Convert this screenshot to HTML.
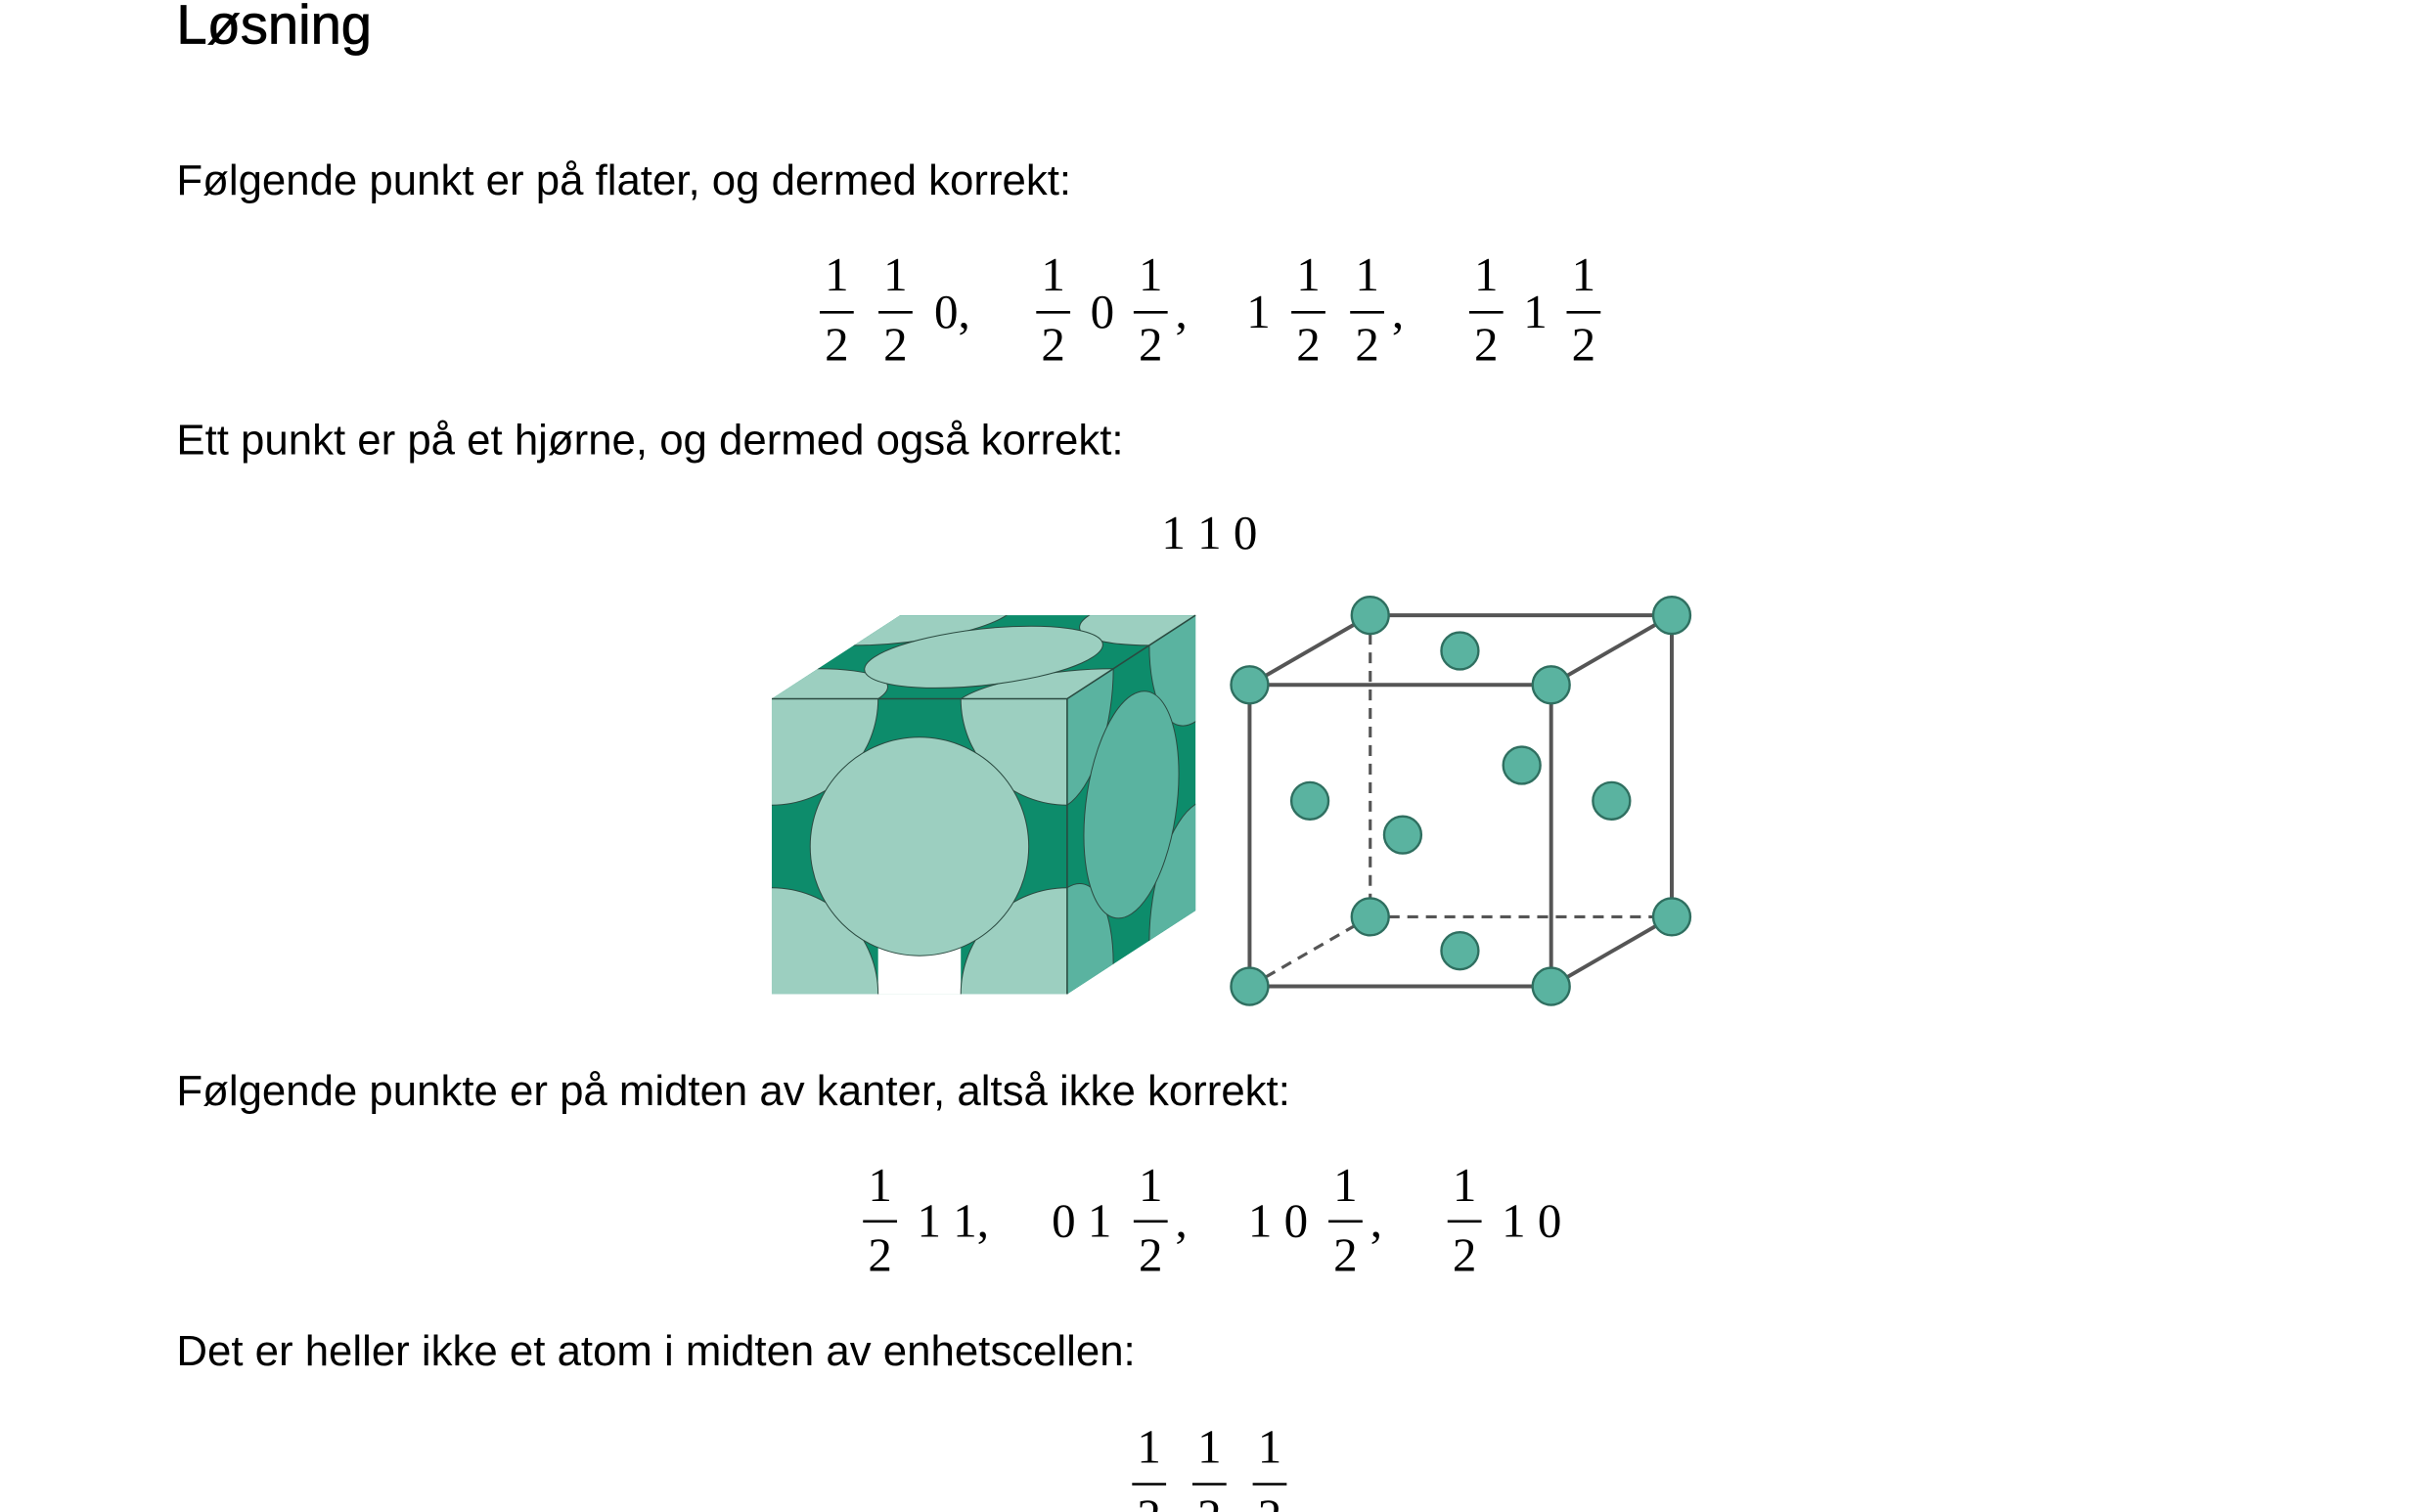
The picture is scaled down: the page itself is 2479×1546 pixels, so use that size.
<!DOCTYPE html>
<html><head><meta charset="utf-8">
<style>
html,body{margin:0;padding:0;background:#fff;width:2479px;height:1546px;overflow:hidden}
svg{display:block}
.s{font-family:"Liberation Sans",sans-serif;font-size:27.7px;fill:#000}
.m{font-family:"Liberation Serif",serif;font-size:31px;fill:#000}
</style></head>
<body>
<svg id="pg" width="2479" height="1546" viewBox="0 0 1568 978" xmlns="http://www.w3.org/2000/svg">
<defs>
<clipPath id="cu" clipPathUnits="userSpaceOnUse"><rect x="0" y="0" width="1" height="1"/></clipPath>
</defs>
<text x="114" y="28" style="font-family:'Liberation Sans',sans-serif;font-size:35.5px;font-weight:500" stroke="#000" stroke-width="0.5">Løsning</text>
<text class="s" x="114" y="126">Følgende punkt er på flater, og dermed korrekt:</text>
<text class="s" x="114" y="294">Ett punkt er på et hjørne, og dermed også korrekt:</text>
<text class="m" x="751" y="355">1 1 0</text>
<text class="s" x="114" y="715">Følgende punkte er på midten av kanter, altså ikke korrekt:</text>
<text class="s" x="114" y="883">Det er heller ikke et atom i midten av enhetscellen:</text>
<g id="math"></g>

<g>
  <polygon points="499,452 582,398 773,398 773,589 690,643 499,643" fill="#0d8c6b"/>
  <g transform="matrix(191,0,83,-54,499,452)" clip-path="url(#cu)">
    <rect x="0" y="0" width="1" height="1" fill="#0d8c6b"/>
    <g fill="#9ccfc0" stroke="#2a4a40">
      <circle cx="0" cy="0" r="0.36" vector-effect="non-scaling-stroke"/>
      <circle cx="1" cy="0" r="0.36" vector-effect="non-scaling-stroke"/>
      <circle cx="0" cy="1" r="0.36" vector-effect="non-scaling-stroke"/>
      <circle cx="1" cy="1" r="0.36" vector-effect="non-scaling-stroke"/>
      <circle cx="0.5" cy="0.5" r="0.37" vector-effect="non-scaling-stroke"/>
    </g>
  </g>
  <g transform="matrix(83,-54,0,-191,690,643)" clip-path="url(#cu)">
    <rect x="0" y="0" width="1" height="1" fill="#0d8c6b"/>
    <g fill="#5ab3a0" stroke="#2a4a40">
      <circle cx="0" cy="0" r="0.36" vector-effect="non-scaling-stroke"/>
      <circle cx="1" cy="0" r="0.36" vector-effect="non-scaling-stroke"/>
      <circle cx="0" cy="1" r="0.36" vector-effect="non-scaling-stroke"/>
      <circle cx="1" cy="1" r="0.36" vector-effect="non-scaling-stroke"/>
      <circle cx="0.5" cy="0.5" r="0.37" vector-effect="non-scaling-stroke"/>
    </g>
  </g>
  <g transform="matrix(191,0,0,-191,499,643)" clip-path="url(#cu)">
    <rect x="0" y="0" width="1" height="1" fill="#0d8c6b"/>
    <rect x="0.36" y="0" width="0.28" height="0.2" fill="#fff"/>
    <g fill="#9ccfc0" stroke="#2a4a40">
      <circle cx="0" cy="0" r="0.36" vector-effect="non-scaling-stroke"/>
      <circle cx="1" cy="0" r="0.36" vector-effect="non-scaling-stroke"/>
      <circle cx="0" cy="1" r="0.36" vector-effect="non-scaling-stroke"/>
      <circle cx="1" cy="1" r="0.36" vector-effect="non-scaling-stroke"/>
      <circle cx="0.5" cy="0.5" r="0.37" vector-effect="non-scaling-stroke"/>
    </g>
  </g>
  <polyline points="499,452 690,452 773,398" fill="none" stroke="#2a4a40" stroke-width="1"/>
  <line x1="690" y1="452" x2="690" y2="643" stroke="#2a4a40" stroke-width="1"/>
</g>

<g stroke="#555" stroke-width="2.5" fill="none">
  <g stroke-dasharray="7,5" stroke-width="2">
    <line x1="886" y1="398" x2="886" y2="593"/>
    <line x1="886" y1="593" x2="1081" y2="593"/>
    <line x1="808" y1="638" x2="886" y2="593"/>
  </g>
  <line x1="886" y1="398" x2="1081" y2="398"/>
  <line x1="1081" y1="398" x2="1081" y2="593"/>
  <line x1="808" y1="443" x2="1003" y2="443"/>
  <line x1="808" y1="443" x2="808" y2="638"/>
  <line x1="1003" y1="443" x2="1003" y2="638"/>
  <line x1="808" y1="638" x2="1003" y2="638"/>
  <line x1="808" y1="443" x2="886" y2="398"/>
  <line x1="1003" y1="443" x2="1081" y2="398"/>
  <line x1="1003" y1="638" x2="1081" y2="593"/>
  <g fill="#5ab3a0" stroke="#2f6f60" stroke-width="1.5">
    <circle cx="886" cy="398" r="12"/><circle cx="1081" cy="398" r="12"/>
    <circle cx="886" cy="593" r="12"/><circle cx="1081" cy="593" r="12"/>
    <circle cx="808" cy="443" r="12"/><circle cx="1003" cy="443" r="12"/>
    <circle cx="808" cy="638" r="12"/><circle cx="1003" cy="638" r="12"/>
    <circle cx="944" cy="421" r="12"/><circle cx="944" cy="615" r="12"/>
    <circle cx="847" cy="518" r="12"/><circle cx="1042" cy="518" r="12"/>
    <circle cx="984" cy="495" r="12"/><circle cx="907" cy="540" r="12"/>
  </g>
</g>
</svg>
<script>
var NS='http://www.w3.org/2000/svg';
var g=document.getElementById('math');
var rowY=[[188,202,233],[777,790,822],[946,960,991]];
var fracs=[[0,541],[0,579],[0,681],[0,744],[0,846],[0,884],[0,961],[0,1024],
           [1,569],[1,744],[1,870],[1,947],[2,743],[2,782],[2,821]];
var plain=[[0,604,'0,'],[0,705,'0'],[0,760,','],[0,806,'1'],[0,900,','],[0,985,'1'],
           [1,593,'1 1,'],[1,680,'0 1'],[1,760,','],[1,807,'1 0'],[1,886,','],[1,971,'1 0']];
fracs.forEach(function(f){
  var r=rowY[f[0]],x=f[1];
  var n=document.createElementNS(NS,'text');
  n.setAttribute('class','m');n.setAttribute('x',x);n.setAttribute('y',r[0]);n.setAttribute('text-anchor','middle');n.textContent='1';
  
  
  g.appendChild(n);
  var l=document.createElementNS(NS,'line');
  l.setAttribute('x1',x-11);l.setAttribute('x2',x+11);l.setAttribute('y1',r[1]);l.setAttribute('y2',r[1]);
  l.setAttribute('stroke','#000');l.setAttribute('stroke-width','1.6');
  
  
  g.appendChild(l);
  var d=document.createElementNS(NS,'text');
  d.setAttribute('class','m');d.setAttribute('x',x);d.setAttribute('y',r[2]);d.setAttribute('text-anchor','middle');d.textContent='2';
  
  
  g.appendChild(d);
});
plain.forEach(function(p){
  var r=rowY[p[0]];
  var t=document.createElementNS(NS,'text');
  t.setAttribute('class','m');t.setAttribute('x',p[1]);t.setAttribute('y',r[1]+10);t.textContent=p[2];
  
  
  g.appendChild(t);
});
</script>
</body></html>
